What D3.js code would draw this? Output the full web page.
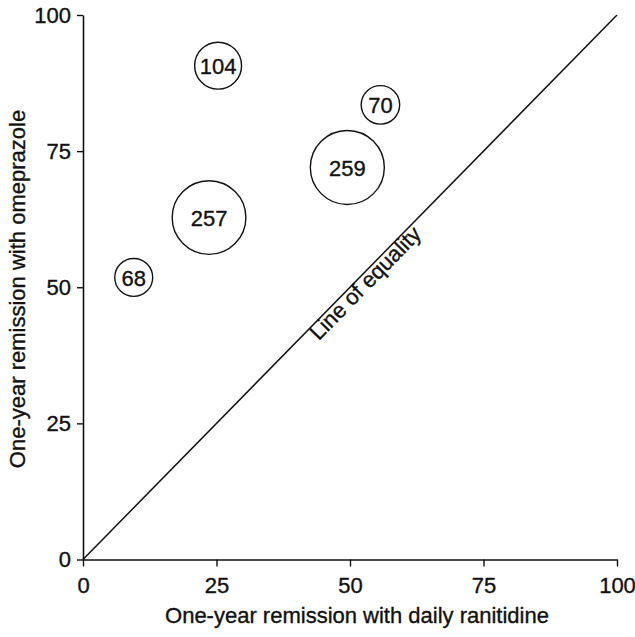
<!DOCTYPE html>
<html>
<head>
<meta charset="utf-8">
<script src="https://cdn.jsdelivr.net/npm/d3@7"></script>
<style>
  html, body { margin: 0; padding: 0; background: #fff; }
  svg { display: block; }
  text { font-family: "Liberation Sans", Arial, Helvetica, sans-serif; fill: #111; stroke: #111; stroke-width: 0.35px; }
</style>
</head>
<body>
<svg id="chart" width="635" height="637"></svg>
<script>
// ---- data ----
const studies = ["68", "104", "257", "259", "70"];
const ranitidine = [9.5, 25.3, 23.6, 49.5, 55.7];
const omeprazole = [51.8, 90.7, 62.8, 72.0, 83.5];
const patients = [68, 104, 257, 259, 70];
const xTicks = [0, 25, 50, 75, 100];
const yTicks = [0, 25, 50, 75, 100];
const equality = [[0, 0], [100, 100]];
const equalityLabel = "Line of equality";
const equalityLabelAt = 51.8; // position along the line (data units)
const xTitle = "One-year remission with daily ranitidine";
const yTitle = "One-year remission with omeprazole";

// ---- layout ----
const svg = d3.select("#chart");
const mLeft = 83, mRight = 617, mTop = 15, mBottom = 559.5;
const x = d3.scaleLinear().domain([0, 100]).range([mLeft, mRight]);
const y = d3.scaleLinear().domain([0, 100]).range([mBottom, mTop]);
const r = d3.scaleSqrt().domain([0, 259]).range([0, 37]);
const fontSize = 22;
const ink = "#111";

// axes
const xAxis = svg.append("g")
  .attr("transform", `translate(0,${mBottom})`)
  .call(d3.axisBottom(x).tickValues(xTicks).tickSize(7).tickSizeOuter(0).tickPadding(11));
const yAxis = svg.append("g")
  .attr("transform", `translate(${mLeft},0)`)
  .call(d3.axisLeft(y).tickValues(yTicks).tickSize(6).tickSizeOuter(0).tickPadding(6));
[xAxis, yAxis].forEach(g => {
  g.select(".domain").attr("stroke", ink).attr("stroke-width", 1.6);
  g.selectAll(".tick line").attr("stroke", ink).attr("stroke-width", 1.4);
  g.selectAll(".tick text")
    .attr("font-size", fontSize)
    .attr("font-family", '"Liberation Sans", Arial, sans-serif')
    .attr("fill", ink);
});

// line of equality
const line = d3.line().x(d => x(d[0])).y(d => y(d[1]));
svg.append("path")
  .datum(equality)
  .attr("d", line)
  .attr("fill", "none")
  .attr("stroke", ink)
  .attr("stroke-width", 1.5);

// label along the line
const dx = x(100) - x(0), dy = y(100) - y(0);
const angle = Math.atan2(dy, dx) * 180 / Math.PI;
const len = Math.hypot(dx, dy);
const nx = -dy / len, ny = dx / len; // normal pointing below-right
const off = 15.5;
const lx = x(equalityLabelAt) + nx * off, ly = y(equalityLabelAt) + ny * off;
svg.append("text")
  .attr("transform", `translate(${lx},${ly}) rotate(${angle})`)
  .attr("text-anchor", "middle")
  .attr("font-size", fontSize)
  .text(equalityLabel);

// bubbles
const data = studies.map((s, i) => ({ label: s, xv: ranitidine[i], yv: omeprazole[i], n: patients[i] }));
const g = svg.append("g");
g.selectAll("circle")
  .data(data)
  .join("circle")
  .attr("cx", d => x(d.xv))
  .attr("cy", d => y(d.yv))
  .attr("r", d => r(d.n))
  .attr("fill", "#fff")
  .attr("stroke", ink)
  .attr("stroke-width", 1.4);
g.selectAll("text")
  .data(data)
  .join("text")
  .attr("x", d => x(d.xv))
  .attr("y", d => y(d.yv))
  .attr("dy", "0.38em")
  .attr("text-anchor", "middle")
  .attr("font-size", fontSize)
  .text(d => d.label);

// axis titles
svg.append("text")
  .attr("x", 357)
  .attr("y", 623)
  .attr("text-anchor", "middle")
  .attr("font-size", fontSize)
  .text(xTitle);
svg.append("text")
  .attr("transform", `translate(25,289) rotate(-90)`)
  .attr("text-anchor", "middle")
  .attr("font-size", fontSize)
  .text(yTitle);
</script>
</body>
</html>
